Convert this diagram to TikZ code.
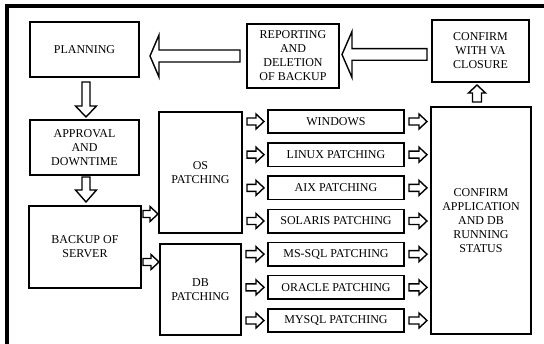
\documentclass[tikz,border=0pt]{standalone}
\usepackage{fontspec}
\setmainfont{Liberation Serif}
\usetikzlibrary{calc}
\tikzset{blk/.style={draw, line width=1.6pt, align=center, inner sep=1pt,
  font=\fontsize{12}{14}\selectfont}}
\tikzset{patch/.style={blk, minimum width=136.4pt, minimum height=23.4pt}}
\tikzset{hollow/.style={draw, line width=1.4pt, fill=white, line join=miter}}
% block arrows, the y (x) of the start point is kept
\newcommand{\harr}[5]{%
\path[hollow] let \p1=(#1), \p2=(#2), \n1={sign(\x2-\x1)} in
(\x1,{\y1+#3}) -- ({\x2-\n1*#5},{\y1+#3}) -- ({\x2-\n1*#5},{\y1+#4}) -- (\x2,\y1)
-- ({\x2-\n1*#5},{\y1-#4}) -- ({\x2-\n1*#5},{\y1-#3}) -- (\x1,{\y1-#3}) -- cycle;}
\newcommand{\varr}[5]{%
\path[hollow] let \p1=(#1), \p2=(#2), \n1={sign(\y2-\y1)} in
({\x1+#3},\y1) -- ({\x1+#3},{\y2-\n1*#5}) -- ({\x1+#4},{\y2-\n1*#5}) -- (\x1,\y2)
-- ({\x1-#4},{\y2-\n1*#5}) -- ({\x1-#3},{\y2-\n1*#5}) -- ({\x1-#3},\y1) -- cycle;}

\begin{document}
\begin{tikzpicture}[x=1pt,y=1pt]
\useasboundingbox (0,0) rectangle (544,-344);
\draw[line width=3.5pt] (7,-344) -- (7,-5.8) -- (544,-5.8);

\node[blk, minimum width=109.4pt, minimum height=55.4pt] (plan) at (84.5,-49.5) {PLANNING};
\node[blk, minimum width=109.4pt, minimum height=55.4pt] (appr) at (84.5,-147.5) {APPROVAL\\AND\\DOWNTIME};
\node[blk, minimum width=112.4pt, minimum height=82.4pt] (bkp) at (85,-247) {BACKUP OF\\SERVER};
\node[blk, minimum width=83.4pt, minimum height=121.4pt] (os) at (200.5,-172.5) {OS\\PATCHING};
\node[blk, minimum width=81.4pt, minimum height=91.4pt] (db) at (200.5,-289.5) {DB\\PATCHING};
\node[blk, minimum width=92.4pt, minimum height=64.4pt] (rep) at (293,-56) {REPORTING\\AND\\DELETION\\OF BACKUP};
\node[blk, minimum width=97.4pt, minimum height=62.4pt] (va) at (480.5,-51) {CONFIRM\\WITH VA\\CLOSURE};
\node[blk, minimum width=100.4pt, minimum height=227.4pt] (app) at (481,-220.5)
  {CONFIRM\\APPLICATION\\AND DB\\RUNNING\\STATUS};

\foreach \b/\t [count=\i] in {win/WINDOWS, lin/LINUX PATCHING, aix/AIX PATCHING,
  sol/SOLARIS PATCHING, mss/MS-SQL PATCHING, ora/ORACLE PATCHING, mys/MYSQL PATCHING}
  \node[patch] (\b) at (336,{-121.5-33.17*(\i-1)}) {\t};

\harr{[xshift=-6pt]rep.west}{[xshift=10pt]plan.east}{6pt}{21pt}{9pt}
\harr{$(va.west |- rep.east)+(-4,1.5)$}{[xshift=2pt]rep.east}{5.8pt}{23pt}{10pt}
\varr{[xshift=1.5pt,yshift=-4pt]plan.south}{[yshift=2pt]appr.north}{4pt}{10.5pt}{11pt}
\varr{[xshift=1.5pt,yshift=-1pt]appr.south}{[yshift=3pt]bkp.north}{4pt}{10.5pt}{12pt}
\varr{[xshift=-4pt,yshift=4pt]app.north}{[yshift=-2pt]va.south}{4.5pt}{8.5pt}{8pt}

\coordinate (bo) at ($(bkp.north east)+(1,-9)$);
\coordinate (bd) at ($(bkp.south east)+(1,27)$);
\harr{bo}{os.west |- bo}{3.5pt}{7.5pt}{8pt}
\harr{bd}{db.west |- bd}{3.5pt}{7.5pt}{8pt}
\foreach \b in {win,lin,aix,sol}
  {\harr{$(os.east |- \b.west)+(4,0)$}{$(\b.west)+(-3,0)$}{3.5pt}{7.5pt}{8pt}}
\foreach \b in {mss,ora,mys}
  {\harr{$(db.east |- \b.west)+(4,0)$}{$(\b.west)+(-3,0)$}{3.5pt}{7.5pt}{8pt}}
\foreach \b in {win,lin,aix,sol,mss,ora,mys}
  {\harr{$(\b.east)+(4,0)$}{$(app.west |- \b.east)+(-3,0)$}{3.5pt}{7.5pt}{8pt}}
\end{tikzpicture}
\end{document}
